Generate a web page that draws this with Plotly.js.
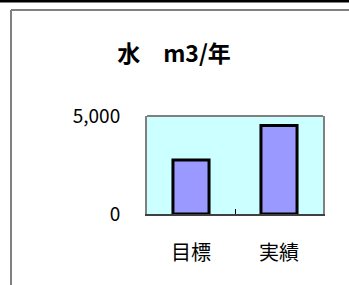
<!DOCTYPE html>
<html><head><meta charset="utf-8">
<script src="https://cdn.plot.ly/plotly-3.0.1.min.js"></script>
<style>html,body{margin:0;padding:0;background:#fff;}#c{width:349px;height:285px;}</style>
</head><body><div id="c"></div>
<script>
const categories = ["目標", "実績"];
const values = [2750, 4520];
const yTicks = [0, 5000];
const titleText = "水　m3/年";

const W = 349, H = 285, L = 147, R = 26, T = 116, B = 71;
const pw = W - L - R, ph = H - T - B;
const px = x => (x - L) / pw;
const py = y => (H - B - y) / ph;

const font = "'Noto Sans CJK JP', 'Liberation Sans', sans-serif";

Plotly.newPlot('c', [{
  type: 'bar', x: categories, y: values,
  marker: {color: '#9999FF', line: {color: '#000000', width: 3}},
  width: 0.41, hoverinfo: 'skip'
}], {
  width: W, height: H,
  margin: {l: L, r: R, t: T, b: B, pad: 0},
  paper_bgcolor: '#ffffff', plot_bgcolor: '#CCFFFF',
  showlegend: false,
  title: {text: titleText, x: 174/W, xanchor: 'center', xref: 'container', y: 1 - 54/H, yanchor: 'middle', yref: 'container',
          font: {family: font, size: 23, color: '#000', weight: 'bold'}},
  xaxis: {type: 'category', showline: true, linecolor: '#404040', linewidth: 2,
          ticks: 'inside', tickson: 'boundaries', ticklen: 5, tickcolor: '#000', tickwidth: 1,
          ticklabelstandoff: 20, tickfont: {family: font, size: 20, color: '#000'}, showgrid: false, zeroline: false, fixedrange: true},
  yaxis: {range: [0, 5000], tickvals: yTicks, tickformat: ',d', showline: true, linecolor: '#808080', linewidth: 2,
          mirror: true, ticks: 'inside', ticklen: 4, tickcolor: '#000',
          ticklabelstandoff: 21, tickfont: {family: font, size: 19, color: '#000'}, showgrid: false, zeroline: false, fixedrange: true},
  shapes: [
    {type: 'line', xref: 'paper', yref: 'paper', x0: px(0), x1: px(W), y0: py(1), y1: py(1), line: {color: '#000', width: 3}},
    {type: 'line', xref: 'paper', yref: 'paper', x0: px(11), x1: px(W), y0: py(10), y1: py(10), line: {color: '#808080', width: 2}},
    {type: 'line', xref: 'paper', yref: 'paper', x0: px(11), x1: px(11), y0: py(10), y1: py(H), line: {color: '#808080', width: 2}},
    {type: 'line', xref: 'paper', yref: 'paper', x0: 0, x1: 1, y0: 1, y1: 1, line: {color: '#808080', width: 2}}
  ]
}, {staticPlot: true});
</script></body></html>
